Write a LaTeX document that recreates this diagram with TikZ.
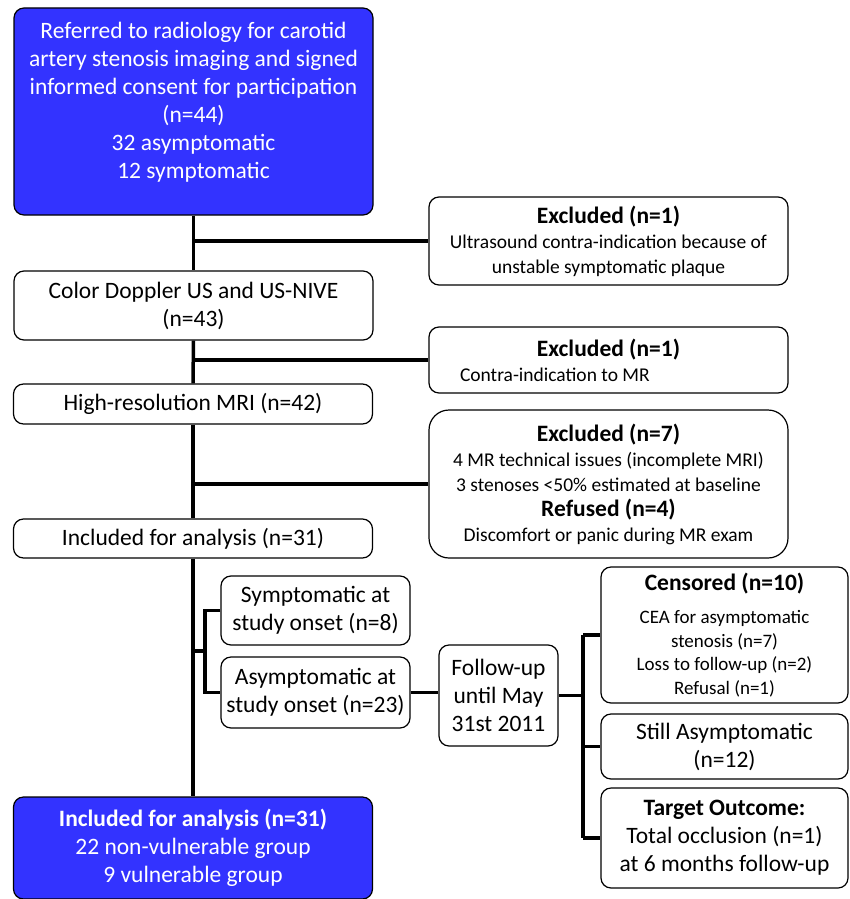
\documentclass[tikz,border=0pt]{standalone}
\usepackage{fontspec}
\setmainfont{Carlito}
\usetikzlibrary{positioning}
\definecolor{boxblue}{RGB}{51,51,255}
\tikzset{
  flowbox/.style={draw, rounded corners=10pt, line width=1.2pt, align=center, inner sep=0pt,
    font=\fontsize{23.5}{28}\selectfont},
  bluebox/.style={flowbox, fill=boxblue, text=white},
  sidebox/.style={flowbox, font=\fontsize{19.5}{25}\selectfont},
  link/.style={line width=3.5pt},
}
\newcommand{\headline}[1]{{\fontsize{23.5}{25}\selectfont\bfseries #1}}
\begin{document}
\begin{tikzpicture}[x=1pt, y=-1pt]
  \useasboundingbox (0,0) rectangle (849,899);

  \node[bluebox, minimum width=359pt, minimum height=207pt] (referred) at (193.5,111.5)
    {Referred to radiology for carotid\\artery stenosis imaging and signed\\informed consent for participation\\(n=44)\\32 asymptomatic\\12 symptomatic\\[-6pt]\mbox{}};
  \node[flowbox, minimum width=359pt, minimum height=69pt] (doppler) at (193.5,305.5)
    {Color Doppler US and US-NIVE\\(n=43)};
  \node[flowbox, minimum width=359pt, minimum height=40pt] (mri) at (193,404)
    {High-resolution MRI (n=42)};
  \node[flowbox, minimum width=359pt, minimum height=39pt] (included) at (193,538.5)
    {Included for analysis (n=31)};
  \node[bluebox, minimum width=359pt, minimum height=102pt] (groups) at (193,848)
    {\textbf{Included for analysis (n=31)}\\22 non-vulnerable group\\9 vulnerable group};

  \node[sidebox, minimum width=359pt, minimum height=88pt] (exclus) at (608.5,241)
    {\headline{Excluded (n=1)}\\Ultrasound contra-indication because of\\unstable symptomatic plaque};
  \node[sidebox, minimum width=359pt, minimum height=66pt] (exclmr) at (608.5,360)
    {\headline{Excluded (n=1)}\\\makebox[359pt][l]{\hspace{31pt}Contra-indication to MR}};
  \node[sidebox, rounded corners=20pt, minimum width=359pt, minimum height=148pt] (exclmri) at (608.5,484)
    {\headline{Excluded (n=7)}\\4 MR technical issues (incomplete MRI)\\3 stenoses <50\% estimated at baseline\\\headline{Refused (n=4)}\\Discomfort or panic during MR exam};

  \node[flowbox, minimum width=189pt, minimum height=69pt] (sympt) at (315.5,610.5)
    {Symptomatic at\\study onset (n=8)};
  \node[flowbox, minimum width=189pt, minimum height=71pt] (asympt) at (315.5,692.5)
    {Asymptomatic at\\study onset (n=23)};
  \node[flowbox, minimum width=119pt, minimum height=101pt] (followup) at (498.5,695.5)
    {Follow-up\\until May\\31st 2011};

  \node[sidebox, font=\fontsize{19}{23.5}\selectfont, minimum width=247pt, minimum height=136pt] (censored) at (724.5,635)
    {\headline{Censored (n=10)}\\[10pt]CEA for asymptomatic\\stenosis (n=7)\\Loss to follow-up (n=2)\\Refusal (n=1)};
  \node[flowbox, minimum width=247pt, minimum height=65pt] (still) at (724.5,746.5)
    {Still Asymptomatic\\(n=12)};
  \node[flowbox, minimum width=247pt, minimum height=100pt] (target) at (724.5,838)
    {\textbf{Target Outcome:}\\Total occlusion (n=1)\\at 6 months follow-up};

  \coordinate (fork) at (205,651);
  \coordinate (hub) at (583,693);

  \draw[link] (referred.south) -- (doppler.north);
  \draw[link] (doppler.south) -- (mri.north);
  \draw[link] (mri.south) -- (included.north);
  \draw[link] (included.south) -- (groups.north);
  \draw[link] (exclus.west -| referred.south) -- (exclus.west);
  \draw[link] (exclmr.west -| doppler.south) -- (exclmr.west);
  \draw[link] (exclmri.west -| mri.south) -- (exclmri.west);
  \draw[link] (fork -| included.south) -- (fork);
  \draw[link] (sympt.west) -| (fork) |- (asympt.west);
  \draw[link] (asympt.east) -- (asympt.east -| followup.west);
  \draw[link] (followup.east) -- (followup.east -| hub);
  \draw[link] (hub |- censored.west) -- (hub |- target.west);
  \draw[link] (hub |- censored.west) -- (censored.west);
  \draw[link] (hub |- still.west) -- (still.west);
  \draw[link] (hub |- target.west) -- (target.west);
\end{tikzpicture}
\end{document}
